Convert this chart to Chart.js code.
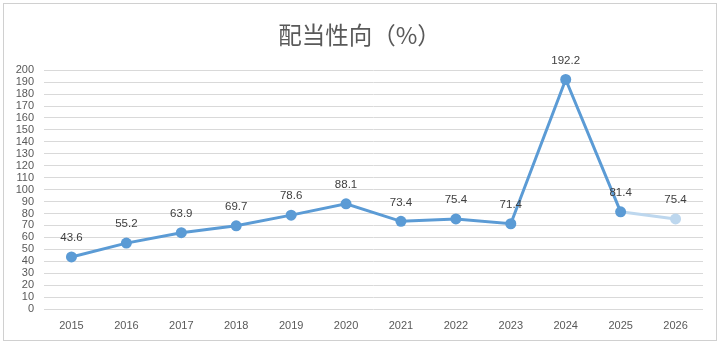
<!DOCTYPE html>
<html>
<head>
<meta charset="utf-8">
<script src="https://cdn.jsdelivr.net/npm/chart.js@4"></script>
<style>
  html, body { margin: 0; padding: 0; background: #fff; }
  .frame {
    position: absolute; left: 3px; top: 3px;
    width: 712px; height: 336px;
    border: 1px solid #d0d0d0; background: #fff;
  }
  canvas { display: block; }
</style>
</head>
<body>
<div class="frame"><canvas id="c" width="712" height="336"></canvas></div>
<script>
// 配当性向の推移（2026は予想）
var years = ["2015", "2016", "2017", "2018", "2019", "2020", "2021", "2022", "2023", "2024", "2025", "2026"];
var payout = [43.6, 55.2, 63.9, 69.7, 78.6, 88.1, 73.4, 75.4, 71.4, 192.2, 81.4, 75.4];
var forecastIdx = 11; // 予想値の点（薄い色）

var blue = "#5B9BD5";
var lightBlue = "#BDD7EE";

// 各点の上に値を書く
var valueLabels = {
  id: "valueLabels",
  afterDatasetsDraw: function (chart) {
    var ctx = chart.ctx;
    var meta = chart.getDatasetMeta(0);
    ctx.save();
    ctx.font = "11.5px 'Liberation Sans', Arial, sans-serif";
    ctx.fillStyle = "#404040";
    ctx.textAlign = "center";
    ctx.textBaseline = "middle";
    meta.data.forEach(function (pt, i) {
      ctx.fillText(payout[i].toFixed(1), pt.x, pt.y - 19);
    });
    ctx.restore();
  }
};

var pointColors = payout.map(function (v, i) { return i >= forecastIdx ? lightBlue : blue; });

new Chart(document.getElementById("c"), {
  type: "line",
  data: {
    labels: years,
    datasets: [{
      data: payout,
      borderColor: blue,
      borderWidth: 3,
      pointRadius: 5.5,
      pointHoverRadius: 5.5,
      pointBorderWidth: 0,
      pointBackgroundColor: pointColors,
      pointBorderColor: pointColors,
      tension: 0,
      segment: {
        borderColor: function (c) { return c.p1DataIndex >= forecastIdx ? lightBlue : undefined; }
      }
    }]
  },
  options: {
    responsive: false,
    animation: false,
    layout: { padding: { left: 12, right: 13, top: 0, bottom: 0 } },
    plugins: {
      legend: { display: false },
      tooltip: { enabled: false },
      title: {
        display: true,
        text: "配当性向（%）",
        color: "#595959",
        font: { family: "'Noto Sans CJK JP', sans-serif", size: 23.5, weight: "normal" },
        padding: { top: 17, bottom: 21 }
      }
    },
    scales: {
      x: {
        offset: true,
        grid: { display: false, drawTicks: false },
        border: { display: false },
        ticks: {
          color: "#595959",
          padding: 10,
          maxRotation: 0,
          font: { family: "'Liberation Sans', Arial, sans-serif", size: 11 }
        },
        afterFit: function (s) { s.height = 31; }
      },
      y: {
        min: 0,
        max: 200,
        grid: { color: "#d9d9d9", drawTicks: false },
        border: { display: false },
        ticks: {
          stepSize: 10,
          autoSkip: false,
          color: "#595959",
          padding: 10,
          font: { family: "'Liberation Sans', Arial, sans-serif", size: 11 }
        },
        afterFit: function (s) { s.width = 28; }
      }
    }
  },
  plugins: [valueLabels]
});
</script>
</body>
</html>
